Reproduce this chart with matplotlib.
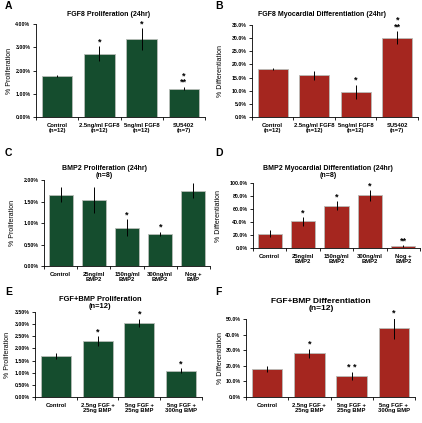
import matplotlib
matplotlib.use("Agg")
import matplotlib.pyplot as plt
from matplotlib.ticker import FuncFormatter, FixedLocator

plt.rcParams['font.family'] = ['Liberation Sans', 'DejaVu Sans']
plt.rcParams['font.weight'] = 'bold'

GREEN = '#154d2e'
RED = '#a5261f'

# Panel A
a_cats = ["Control\n(n=12)", "2.5ng/ml FGF8\n(n=12)", "5ng/ml FGF8\n(n=12)", "SU5402\n(n=7)"]
a_vals = [1.75, 2.72, 3.35, 1.22]
a_errs = [0.05, 0.33, 0.47, 0.07]
a_stars = ["", "*", "*", "*\n**"]
# Panel B
b_cats = ["Control\n(n=12)", "2.5ng/ml FGF8\n(n=12)", "5ng/ml FGF8\n(n=12)", "SU5402\n(n=7)"]
b_vals = [18.3, 15.8, 9.5, 30.2]
b_errs = [0.4, 1.7, 2.8, 2.4]
b_stars = ["", "", "*", "*\n**"]
# Panel C
c_cats = ["Control", "25ng/ml\nBMP2", "150ng/ml\nBMP2", "300ng/ml\nBMP2", "Nog +\nBMP"]
c_vals = [1.66, 1.53, 0.89, 0.75, 1.75]
c_errs = [0.18, 0.30, 0.20, 0.05, 0.18]
c_stars = ["", "", "*", "*", ""]
# Panel D
d_cats = ["Control", "25ng/ml\nBMP2", "150ng/ml\nBMP2", "300ng/ml\nBMP2", "Nog +\nBMP2"]
d_vals = [22.0, 41.0, 65.0, 81.0, 3.0]
d_errs = [5.0, 6.5, 7.0, 8.0, 1.0]
d_stars = ["", "*", "*", "*", "**"]
# Panel E
e_cats = ["Control", "2.5ng FGF +\n25ng BMP", "5ng FGF +\n25ng BMP", "5ng FGF +\n300ng BMP"]
e_vals = [1.70, 2.30, 3.05, 1.08]
e_errs = [0.12, 0.20, 0.17, 0.10]
e_stars = ["", "*", "*", "*"]
# Panel F
f_cats = ["Control", "2.5ng FGF +\n25ng BMP", "5ng FGF +\n25ng BMP", "5ng FGF +\n300ng BMP"]
f_vals = [18.0, 28.0, 13.5, 44.0]
f_errs = [2.0, 3.0, 2.3, 7.0]
f_stars = ["", "*", "* *", "*"]

W, H = 422, 423
fig = plt.figure(figsize=(W / 100, H / 100), dpi=100)


def px_axes(l, r, t, b):
    return fig.add_axes([l / W, 1 - b / H, (r - l) / W, (b - t) / H])


def panel(box, letter, letter_xy, title, title_xy, cats, vals, errs, stars,
          color, ymax, ystep, fmt, ylabel, ylabel_x, title_size=5.0):
    ax = px_axes(*box)
    n = len(cats)
    x = list(range(n))
    ax.bar(x, vals, width=0.72, color=color, edgecolor='#b8bdb8', linewidth=0.6,
           zorder=2)
    ax.errorbar(x, vals, yerr=errs, fmt='none', ecolor='black', elinewidth=0.7,
                capsize=0, zorder=3)
    for xi, v, e, s in zip(x, vals, errs, stars):
        if s:
            ax.text(xi, v + e, s, ha='center', va='bottom',
                    fontsize=6.5, linespacing=0.7)
    ax.set_xlim(-0.5, n - 0.5)
    ax.set_ylim(0, ymax)
    yt = [i * ystep for i in range(int(round(ymax / ystep)) + 1)]
    ax.set_yticks(yt)
    ax.yaxis.set_major_formatter(FuncFormatter(lambda v, p: fmt.format(v)))
    ax.xaxis.set_major_locator(FixedLocator([i - 0.5 for i in range(n + 1)]))
    ax.xaxis.set_major_formatter(FuncFormatter(lambda v, p: ""))
    ax.xaxis.set_minor_locator(FixedLocator(x))
    ax.set_xticklabels(cats, minor=True)
    ax.tick_params(axis='x', which='minor', length=0, labelsize=4.2, pad=4)
    ax.tick_params(axis='x', which='major', length=2.5, width=0.6)
    ax.tick_params(axis='y', length=2.5, width=0.6, labelsize=3.8, pad=1.5)
    for lab in ax.get_xticklabels(minor=True):
        lab.set_linespacing(1.0)
    for sp in ('top', 'right'):
        ax.spines[sp].set_visible(False)
    for sp in ('left', 'bottom'):
        ax.spines[sp].set_linewidth(0.6)
    fig.text(letter_xy[0] / W, 1 - letter_xy[1] / H, letter, fontsize=7.5,
             ha='left', va='center')
    fig.text(title_xy[0] / W, 1 - title_xy[1] / H, title, fontsize=title_size,
             ha='center', va='center', linespacing=0.95)
    fig.text(ylabel_x / W, 1 - (box[2] + box[3]) / 2 / H, ylabel, fontsize=5,
             rotation=90, ha='center', va='center', fontweight='normal')
    return ax


panel((36, 205, 24, 117), "A", (5, 6), "FGF8 Proliferation (24hr)", (109, 15),
      a_cats, a_vals, a_errs, a_stars, GREEN, 4.0, 1.0, "{:.2f}%",
      "% Proliferation", 10)
panel((252, 418, 25, 117), "B", (215, 6), "FGF8 Myocardial Differentiation (24hr)",
      (322, 15), b_cats, b_vals, b_errs, b_stars, RED, 35.0, 5.0, "{:.1f}%",
      "% Differentiation", 221)
panel((44, 210, 180, 266), "C", (5, 153), "BMP2 Proliferation (24hr)\n(n=8)",
      (104, 172), c_cats, c_vals, c_errs, c_stars, GREEN, 2.0, 0.5, "{:.2f}%",
      "% Proliferation", 13)
panel((253, 420, 183, 248), "D", (215, 153),
      "BMP2 Myocardial Differentiation (24hr)\n(n=8)", (328, 172),
      d_cats, d_vals, d_errs, d_stars, RED, 100.0, 20.0, "{:.1f}%",
      "% Differentiation", 219)
panel((35, 202, 312, 397), "E", (5, 292), "FGF+BMP Proliferation\n(n=12)", (100, 303),
      e_cats, e_vals, e_errs, e_stars, GREEN, 3.5, 0.5, "{:.2f}%",
      "% Proliferation", 8, title_size=5.4)
panel((246, 415, 319, 397), "F", (215, 292), "FGF+BMP Differentiation\n(n=12)",
      (321, 305), f_cats, f_vals, f_errs, f_stars, RED, 50.0, 10.0, "{:.1f}%",
      "% Differentiation", 220, title_size=6.0)

fig.savefig("out.png", dpi=100, facecolor='white')
